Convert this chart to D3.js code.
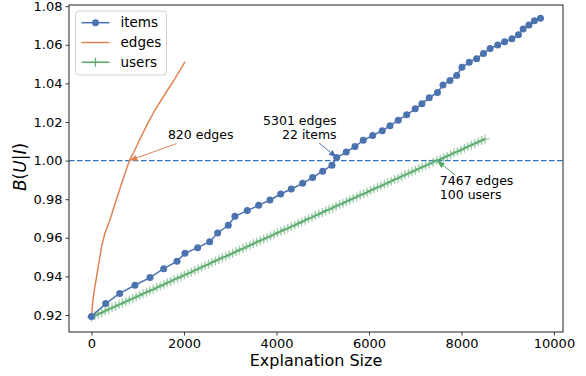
<!DOCTYPE html>
<html>
<head>
<meta charset="utf-8">
<script src="https://cdn.jsdelivr.net/npm/d3@7"></script>
<style>
  body { margin: 0; background: #fff; }
  svg { display: block; }
  text { font-family: "DejaVu Sans", sans-serif; fill: #000; }
</style>
</head>
<body>
<svg id="chart" width="586" height="376"></svg>
<script>
// Explanation size (edges) vs. B(U|I) when adding items, raw edges, or users
const itemEdges = [0, 307, 610, 940, 1265, 1561, 1849, 2022, 2296, 2556,
  2728, 2958, 3102, 3368, 3615, 3859, 4090, 4320, 4566, 4782,
  4999, 5200, 5301, 5509, 5697, 5876, 6080, 6287, 6454, 6633,
  6815, 7000, 7145, 7303, 7481, 7600, 7751, 7896, 8010, 8168,
  8328, 8475, 8620, 8784, 8933, 9091, 9232, 9333, 9459, 9577, 9708];
const itemScores = [0.9192, 0.9259, 0.9312, 0.9354, 0.9394, 0.9440, 0.9478, 0.9520, 0.9549, 0.9580,
  0.9625, 0.9665, 0.9711, 0.9741, 0.9768, 0.9796, 0.9827, 0.9853, 0.9882, 0.9912,
  0.9945, 0.9976, 1.0016, 1.0044, 1.0073, 1.0105, 1.0130, 1.0155, 1.0180, 1.0209,
  1.0237, 1.0268, 1.0295, 1.0325, 1.0353, 1.0391, 1.0415, 1.0441, 1.0483, 1.0510,
  1.0528, 1.0555, 1.0581, 1.0599, 1.0616, 1.0631, 1.0652, 1.0682, 1.0703, 1.0724, 1.0737];

const edgeSizes = [0, 32, 76, 147, 220, 255, 292, 400, 545, 660, 820, 940, 1049, 1210, 1373, 1589, 1805, 2022];
const edgeScores = [0.9188, 0.9280, 0.9349, 0.9452, 0.9556, 0.9590, 0.9625, 0.9694, 0.9802, 0.9888,
  1.0000, 1.0056, 1.0112, 1.0190, 1.0262, 1.0345, 1.0425, 1.0511];

const userEdges = [0, 71, 148, 222, 295, 372, 445, 519, 596, 668, 743,
  818, 890, 966, 1041, 1113, 1190, 1264, 1337, 1413, 1487,
  1562, 1636, 1711, 1785, 1860, 1934, 2009, 2083, 2158, 2232,
  2307, 2381, 2456, 2530, 2605, 2680, 2754, 2829, 2903, 2978,
  3052, 3127, 3201, 3276, 3350, 3425, 3500, 3574, 3649, 3723,
  3798, 3872, 3947, 4021, 4096, 4170, 4245, 4320, 4394, 4469,
  4543, 4618, 4692, 4767, 4841, 4916, 4990, 5065, 5140, 5214,
  5289, 5363, 5438, 5512, 5587, 5661, 5736, 5810, 5885, 5960,
  6034, 6109, 6183, 6258, 6332, 6407, 6481, 6556, 6630, 6705,
  6780, 6854, 6929, 7003, 7078, 7152, 7227, 7301, 7386, 7467,
  7541, 7616, 7690, 7765, 7839, 7914, 7988, 8063, 8137, 8212, 8286, 8361, 8435, 8508];
const userScores = [0.9188, 0.9197, 0.9205, 0.9212, 0.9221, 0.9230, 0.9237, 0.9245, 0.9254, 0.9261, 0.9269,
  0.9278, 0.9285, 0.9293, 0.9302, 0.9311, 0.9318, 0.9326, 0.9333, 0.9342, 0.9350,
  0.9358, 0.9367, 0.9374, 0.9383, 0.9391, 0.9398, 0.9407, 0.9415, 0.9422, 0.9431,
  0.9439, 0.9448, 0.9456, 0.9463, 0.9472, 0.9480, 0.9488, 0.9497, 0.9504, 0.9512,
  0.9520, 0.9529, 0.9537, 0.9544, 0.9553, 0.9561, 0.9569, 0.9578, 0.9585, 0.9593,
  0.9601, 0.9609, 0.9618, 0.9626, 0.9634, 0.9642, 0.9649, 0.9658, 0.9666, 0.9674,
  0.9682, 0.9691, 0.9699, 0.9706, 0.9715, 0.9723, 0.9731, 0.9740, 0.9747, 0.9755,
  0.9764, 0.9772, 0.9779, 0.9788, 0.9796, 0.9804, 0.9812, 0.9821, 0.9828, 0.9836,
  0.9845, 0.9853, 0.9861, 0.9868, 0.9877, 0.9885, 0.9893, 0.9902, 0.9909, 0.9918,
  0.9926, 0.9934, 0.9942, 0.9950, 0.9959, 0.9966, 0.9974, 0.9982, 0.9991, 1.0002,
  1.0007, 1.0015, 1.0023, 1.0031, 1.0040, 1.0047, 1.0055, 1.0064, 1.0072, 1.0080, 1.0088, 1.0096, 1.0104, 1.0112];

const seriesNames = ["items", "edges", "users"];
const xTicks = [0, 2000, 4000, 6000, 8000, 10000];
const yTicks = [0.92, 0.94, 0.96, 0.98, 1.00, 1.02, 1.04, 1.06, 1.08];
const threshold = 1.0;

// Crossing annotations: which series, which point index, label lines
const annotSeries = ["edges", "items", "users"];
const annotIndex = [10, 22, 100];
const annotLabels = [["820 edges"], ["5301 edges", "22 items"], ["7467 edges", "100 users"]];

const colors = { items: "#4c72b0", edges: "#dd8452", users: "#55a868", ref: "#2f75b5" };

const svg = d3.select("#chart");
const margin = { left: 69, right: 23, top: 5, bottom: 44 };
const W = 586, H = 376;

const x = d3.scaleLinear().domain([-486, 10195]).range([margin.left, W - margin.right]);
const y = d3.scaleLinear().domain([0.9112, 1.0806]).range([H - margin.bottom, margin.top]);

const defs = svg.append("defs");
defs.append("clipPath").attr("id", "plotClip").append("rect")
  .attr("x", margin.left).attr("y", margin.top)
  .attr("width", W - margin.left - margin.right).attr("height", H - margin.top - margin.bottom);

// axes
const xAxis = svg.append("g").attr("transform", `translate(0,${H - margin.bottom})`)
  .call(d3.axisBottom(x).tickValues(xTicks).tickFormat(d3.format("d")).tickSize(3.5).tickPadding(3.5));
const yAxis = svg.append("g").attr("transform", `translate(${margin.left},0)`)
  .call(d3.axisLeft(y).tickValues(yTicks).tickFormat(d3.format(".2f")).tickSize(3.5).tickPadding(3));
[xAxis, yAxis].forEach(g => {
  g.select(".domain").remove();
  g.selectAll(".tick line").attr("stroke", "#222").attr("stroke-width", 0.9);
  g.selectAll(".tick text").style("font-family", '"DejaVu Sans", sans-serif').style("font-size", "13px").attr("fill", "#000");
});

const plot = svg.append("g").attr("clip-path", "url(#plotClip)");

// reference line at B(U|I) = 1
plot.append("line")
  .attr("x1", margin.left).attr("x2", W - margin.right)
  .attr("y1", y(threshold)).attr("y2", y(threshold))
  .attr("stroke", colors.ref).attr("stroke-width", 1.3).attr("stroke-dasharray", "5.5,2.5");

const line = d3.line().x(d => x(d[0])).y(d => y(d[1]));
const itemPts = itemEdges.map((e, i) => [e, itemScores[i]]);
const edgePts = edgeSizes.map((e, i) => [e, edgeScores[i]]);
const userPts = userEdges.map((e, i) => [e, userScores[i]]);

// users: line with '+' markers
plot.append("path").datum(userPts).attr("d", line)
  .attr("fill", "none").attr("stroke", colors.users).attr("stroke-width", 1.5);
const plus = plot.append("g").attr("stroke", colors.users).attr("stroke-width", 1.2).attr("opacity", 0.6);
plus.selectAll("path").data(userPts).join("path")
  .attr("d", d => `M${x(d[0]) - 4.5},${y(d[1])}h9M${x(d[0])},${y(d[1]) - 4.5}v9`);

// edges: plain line
plot.append("path").datum(edgePts).attr("d", line)
  .attr("fill", "none").attr("stroke", colors.edges).attr("stroke-width", 1.5);

// items: line with circle markers
plot.append("path").datum(itemPts).attr("d", line)
  .attr("fill", "none").attr("stroke", colors.items).attr("stroke-width", 1.5);
plot.append("g").selectAll("circle").data(itemPts).join("circle")
  .attr("cx", d => x(d[0])).attr("cy", d => y(d[1])).attr("r", 3.5)
  .attr("fill", colors.items);

// frame
svg.append("rect")
  .attr("x", margin.left).attr("y", margin.top)
  .attr("width", W - margin.left - margin.right).attr("height", H - margin.top - margin.bottom)
  .attr("fill", "none").attr("stroke", "#222").attr("stroke-width", 1);

// annotations with arrows
const seriesPts = { items: itemPts, edges: edgePts, users: userPts };
// text anchor, text offset from the tip and arrow-tail offset from the tip (pixels)
const annotLayout = [
  { anchor: "start", dx: 38.5, dy: -21.5, tx: 47, ty: -17 },
  { anchor: "end", dx: 0, dy: -32, tx: -17.5, ty: -14.5 },
  { anchor: "start", dx: 3, dy: 24.5, tx: 18.5, ty: 14.5 }
];
function arrow(g, x0, y0, x1, y1, color) {
  const ang = Math.atan2(y1 - y0, x1 - x0);
  const len = 8, half = 3;
  const bx = x1 - len * Math.cos(ang), by = y1 - len * Math.sin(ang);
  g.append("line").attr("x1", x0).attr("y1", y0).attr("x2", bx).attr("y2", by)
    .attr("stroke", color).attr("stroke-width", 1);
  g.append("path")
    .attr("d", `M${x1},${y1}L${bx + half * Math.sin(ang)},${by - half * Math.cos(ang)}L${bx - half * Math.sin(ang)},${by + half * Math.cos(ang)}Z`)
    .attr("fill", color);
}
annotSeries.forEach((s, k) => {
  const p = seriesPts[s][annotIndex[k]];
  const px = x(p[0]), py = y(Math.abs(p[1] - threshold) < 0.003 && s !== "items" ? threshold : p[1]);
  const L = annotLayout[k];
  const g = svg.append("g");
  arrow(g, px + L.tx, py + L.ty, px, py, colors[s]);
  const t = g.append("text").attr("text-anchor", L.anchor).style("font-size", "12.5px");
  annotLabels[k].forEach((ln, j) => {
    t.append("tspan").attr("x", px + L.dx).attr("y", py + L.dy + j * 14).text(ln);
  });
});

// axis titles
svg.append("text").attr("x", (margin.left + W - margin.right) / 2).attr("y", 366)
  .attr("text-anchor", "middle").style("font-size", "16px").text("Explanation Size");
const yl = svg.append("text").attr("transform", "translate(26,167) rotate(-90)")
  .attr("text-anchor", "middle").style("font-size", "17px");
[["B", true], ["(", false], ["U", true], ["|", false], ["I", true], [")", false]].forEach(([c, it]) => {
  yl.append("tspan").style("font-style", it ? "italic" : "normal").text(c);
});

// legend
const leg = svg.append("g").attr("transform", "translate(75.5,11)");
leg.append("rect").attr("width", 91).attr("height", 64).attr("rx", 3.5)
  .attr("fill", "#fff").attr("fill-opacity", 0.8).attr("stroke", "#d0d0d0").attr("stroke-width", 1);
seriesNames.forEach((n, i) => {
  const cy = 11.7 + i * 19.8;
  const g = leg.append("g").attr("transform", `translate(0,${cy})`);
  g.append("line").attr("x1", 6).attr("x2", 34).attr("stroke", colors[n]).attr("stroke-width", 1.5);
  if (n === "items") g.append("circle").attr("cx", 20).attr("r", 3.5).attr("fill", colors[n]);
  if (n === "users") g.append("path").attr("d", "M15.5,0h9M20,-4.5v9").attr("stroke", colors[n]).attr("stroke-width", 1.2);
  g.append("text").attr("x", 45).attr("dy", "0.35em").style("font-size", "13.5px").text(n);
});
</script>
</body>
</html>
